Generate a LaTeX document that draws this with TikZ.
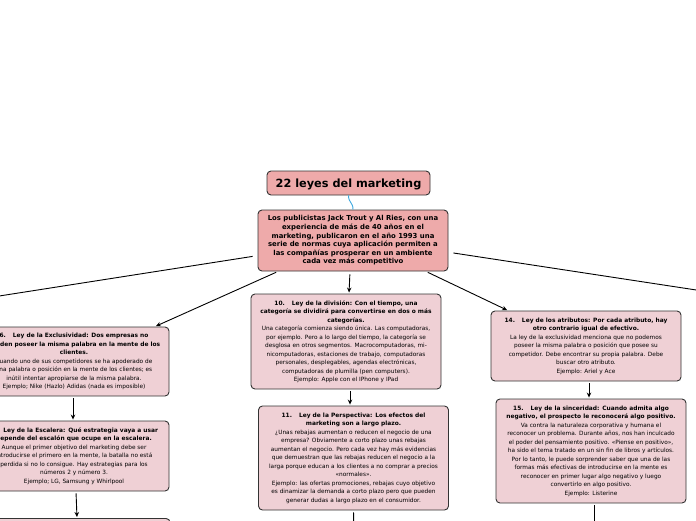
\documentclass[tikz,border=0pt]{standalone}
\usepackage{fontspec}
\setmainfont{DejaVu Sans}
\usetikzlibrary{arrows.meta}
\definecolor{titlefill}{HTML}{EEAAAA}
\definecolor{leaffill}{HTML}{EFD0D5}
\definecolor{edgegray}{HTML}{333333}
\definecolor{linkblue}{HTML}{3FA9E0}
\newcommand\lawhead[1]{{\bfseries\fontsize{5.9}{8.5}\selectfont #1}}
\tikzset{
  titlebox/.style={draw=edgegray, line width=0.9pt, rounded corners=4pt, fill=titlefill,
    align=center, inner sep=2pt, text depth=0.3pt, font=\bfseries\fontsize{11.3}{13}\selectfont},
  mainbox/.style={draw=edgegray, line width=0.9pt, rounded corners=4pt, fill=titlefill,
    align=center, inner sep=2pt, font=\bfseries\fontsize{6.9}{8.6}\selectfont},
  leafbox/.style={draw=edgegray, line width=0.9pt, rounded corners=4pt, fill=leaffill,
    align=center, inner sep=2pt, minimum width=190pt, font=\fontsize{5.8}{8.5}\selectfont},
  link/.style={draw=black, line width=0.9pt, -{Stealth[length=5pt,width=4.5pt]}},
  plainlink/.style={draw=black, line width=0.9pt},
  curvelink/.style={draw=linkblue, line width=0.9pt}
}
\begin{document}
\begin{tikzpicture}[x=1pt,y=-1pt]
\useasboundingbox (0,0) rectangle (696,520);
\fill[white] (0,0) rectangle (696,520);

% title
\node[titlebox, minimum width=163pt, minimum height=24pt] (title) at (348.5,183) {22 leyes del marketing};

% main
\node[mainbox, minimum width=190pt, minimum height=61pt] (main) at (353,240.5) {Los publicistas Jack Trout y Al Ries, con una\\
experiencia de más de 40 años en el\\
marketing, publicaron en el año 1993 una\\
serie de normas cuya aplicación permiten a\\
las compañías prosperar en un ambiente\\
cada vez más competitivo};

% left column
\node[leafbox, minimum height=69pt] (ex) at (74,361.5) {\lawhead{6.\hspace{7pt}Ley de la Exclusividad: Dos empresas no}\\
\lawhead{pueden poseer la misma palabra en la mente de los}\\
\lawhead{clientes.}\\
Cuando uno de sus competidores se ha apoderado de\\
una palabra o posición en la mente de los clientes; es\\
inútil intentar apropiarse de la misma palabra.\\
Ejemplo; Nike (Hazlo) Adidas (nada es imposible)};

\node[leafbox, minimum height=70pt] (esc) at (74,456) {\lawhead{7.\hspace{7pt}Ley de la Escalera: Qué estrategia vaya a usar}\\
\lawhead{depende del escalón que ocupe en la escalera.}\\
Aunque el primer objetivo del marketing debe ser\\
introducirse el primero en la mente, la batalla no está\\
perdida si no lo consigue. Hay estrategias para los\\
números 2 y número 3.\\
Ejemplo; LG, Samsung y Whirlpool};

\node[leafbox, minimum height=40pt, anchor=north] (nextL) at (75,518) {};

% middle column
\node[leafbox, minimum height=95pt] (div) at (346,341.5) {\lawhead{10.\hspace{7pt}Ley de la división: Con el tiempo, una}\\
\lawhead{categoría se dividirá para convertirse en dos o más}\\
\lawhead{categorías.}\\
Una categoría comienza siendo única. Las computadoras,\\
por ejemplo. Pero a lo largo del tiempo, la categoría se\\
desglosa en otros segmentos. Macrocomputadoras, mi-\\
nicomputadoras, estaciones de trabajo, computadoras\\
personales, desplegables, agendas electrónicas,\\
computadoras de plumilla (pen computers).\\
Ejemplo: Apple con el IPhone y IPad};

\node[leafbox, minimum height=104pt] (per) at (353.5,458) {\lawhead{11.\hspace{7pt}Ley de la Perspectiva: Los efectos del}\\
\lawhead{marketing son a largo plazo.}\\
¿Unas rebajas aumentan o reducen el negocio de una\\
empresa? Obviamente a corto plazo unas rebajas\\
aumentan el negocio. Pero cada vez hay más evidencias\\
que demuestran que las rebajas reducen el negocio a la\\
larga porque educan a los clientes a no comprar a precios\\
«normales».\\
Ejemplo: las ofertas promociones, rebajas cuyo objetivo\\
es dinamizar la demanda a corto plazo pero que pueden\\
generar dudas a largo plazo en el consumidor.};

% right column
\node[leafbox, minimum height=70pt] (atr) at (586,346) {\lawhead{14.\hspace{7pt}Ley de los atributos: Por cada atributo, hay}\\
\lawhead{otro contrario igual de efectivo.}\\
La ley de la exclusividad menciona que no podemos\\
poseer la misma palabra o posición que posee su\\
competidor. Debe encontrar su propia palabra. Debe\\
buscar otro atributo.\\
Ejemplo: Ariel y Ace};

\node[leafbox, minimum height=104pt] (sin) at (591,451) {\lawhead{15.\hspace{7pt}Ley de la sinceridad: Cuando admita algo}\\
\lawhead{negativo, el prospecto le reconocerá algo positivo.}\\
Va contra la naturaleza corporativa y humana el\\
reconocer un problema. Durante años, nos han inculcado\\
el poder del pensamiento positivo. «Piense en positivo»,\\
ha sido el tema tratado en un sin fin de libros y artículos.\\
Por lo tanto, le puede sorprender saber que una de las\\
formas más efectivas de introducirse en la mente es\\
reconocer en primer lugar algo negativo y luego\\
convertirlo en algo positivo.\\
Ejemplo: Listerine};

% free ends
\coordinate (offL) at (-20,299);
\coordinate (offR) at (716,293);
\coordinate (perOut) at (354,540);
\coordinate (sinOut) at (594,540);

% connectors
\draw[curvelink] (title.south) .. controls (348.5,203) and (353,202) .. (main.north);
\draw[plainlink, shorten <=5pt] (main.189) -- (offL);
\draw[plainlink, shorten <=5pt] (main.-7.5) -- (offR);
\draw[link, shorten <=2pt, shorten >=1pt] ([xshift=-75pt]main.south) -- ([xshift=81pt]ex.north);
\draw[link, shorten <=3pt, shorten >=1pt] ([xshift=-3pt]main.south) -- ([xshift=3pt]div.north);
\draw[link, shorten <=2pt, shorten >=1pt] ([xshift=73pt]main.south) -- ([xshift=-78pt]atr.north);
\draw[link, shorten <=2pt, shorten >=1pt] ([xshift=-1pt]ex.south) -- ([xshift=-1pt]esc.north);
\draw[link, shorten <=2pt, shorten >=1pt] ([xshift=2pt]esc.south) -- ([xshift=2pt]nextL.north);
\draw[link, shorten <=2pt, shorten >=1pt] ([xshift=4pt]div.south) -- ([xshift=-3.5pt]per.north);
\draw[link, shorten <=2pt] (per.south) -- (perOut);
\draw[link, shorten <=2pt, shorten >=1pt] ([xshift=3pt]atr.south) -- ([xshift=-2pt]sin.north);
\draw[link, shorten <=2pt] ([xshift=3pt]sin.south) -- (sinOut);
\end{tikzpicture}
\end{document}
